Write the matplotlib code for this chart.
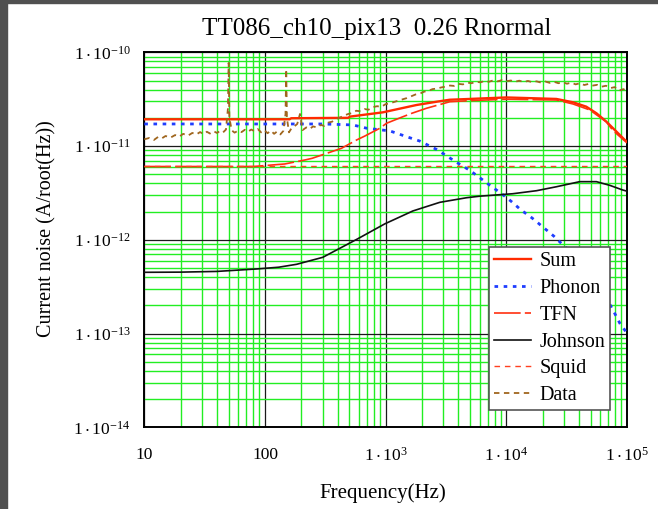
import matplotlib
matplotlib.use("Agg")
import matplotlib.pyplot as plt
from matplotlib.patches import Rectangle
from matplotlib.ticker import FixedLocator, FixedFormatter, NullFormatter, LogLocator

plt.rcParams['font.family'] = ['Liberation Serif', 'DejaVu Serif']
plt.rcParams['mathtext.fontset'] = 'custom'
plt.rcParams['mathtext.rm'] = 'Liberation Serif'
plt.rcParams['mathtext.it'] = 'Liberation Serif:italic'

# ---------------- data ----------------
sum_f = [10, 160, 165, 490, 505, 950, 1800, 2640, 3400, 4680, 1e4, 2.6e4, 3.57e4, 4.6e4, 5.6e4, 6.75e4, 8.2e4, 9.6e4, 1e5]
sum_v = [1.93, 1.93, 1.98, 2.00, 2.06, 2.29, 2.74, 2.97, 3.12, 3.17, 3.30, 3.18, 2.93, 2.63, 2.23, 1.82, 1.42, 1.16, 1.12]

phonon_f = [10, 300, 535, 695, 1084, 1489, 1919, 2642, 3090, 3864, 4977, 6109, 7430, 8954, 10940, 13240, 16330,
            19680, 24830, 29510, 34670, 40550, 46130, 52240, 59430, 67450, 76560, 87100, 1e5]
phonon_v = [1.72, 1.72, 1.68, 1.55, 1.45, 1.26, 1.13, 0.92, 0.809, 0.671, 0.551, 0.453, 0.375, 0.316, 0.258,
            0.208, 0.171, 0.140, 0.109, 0.088, 0.0736, 0.0561, 0.0476, 0.0404, 0.0316, 0.0238, 0.0178, 0.0129, 0.0101]

tfn_f = [10, 80, 146, 214, 246, 356, 431, 574, 673, 896, 1017, 1396, 1638, 2181, 2723, 3404, 4977, 1e4,
         2.6e4, 3.57e4, 4.91e4, 6.75e4, 7.66e4, 1e5]
tfn_v = [0.605, 0.605, 0.644, 0.71, 0.74, 0.87, 0.947, 1.16, 1.28, 1.55, 1.75, 2.06, 2.23, 2.53, 2.74, 2.97,
         3.05, 3.16, 3.10, 2.81, 2.43, 1.81, 1.46, 1.08]

johnson_f = [10, 20, 40, 86, 130, 183, 301, 575, 985, 1680, 2810, 4680, 6030, 11300, 17800, 26000, 40600,
             55800, 72000, 92000, 1e5]
johnson_v = [0.045, 0.0452, 0.046, 0.0489, 0.051, 0.0548, 0.065, 0.101, 0.148, 0.203, 0.251, 0.281, 0.292,
             0.310, 0.334, 0.368, 0.417, 0.417, 0.381, 0.340, 0.330]

squid_f = [10, 1e5]
squid_v = [0.61, 0.61]

data_f = [10, 11, 12, 13, 14, 15, 16.5, 18, 19.5, 21, 23, 25, 27, 29, 31, 33, 35, 37.5, 40, 42.5, 45, 47.5,
          49.3, 50, 50.7, 53, 56, 60, 64, 68, 72, 77, 82, 87, 93, 99, 105, 112, 119, 126, 134, 142, 148, 150,
          152, 158, 166, 175, 185, 195, 205, 220, 235, 250, 270, 290, 310, 335, 360, 390, 420, 455, 490, 530,
          570, 620, 670, 720, 780, 850, 920, 1000, 1080, 1170, 1270, 1380, 1500, 1630, 1770, 1920, 2080, 2260,
          2450, 2660, 2890, 3140, 3410, 3700, 4020, 4370, 4750, 5160, 5600, 6090, 6610, 7180, 7800, 8480, 9210,
          1.0e4, 1.09e4, 1.18e4, 1.28e4, 1.39e4, 1.51e4, 1.64e4, 1.78e4, 1.94e4, 2.1e4, 2.29e4, 2.48e4, 2.7e4,
          2.93e4, 3.18e4, 3.46e4, 3.75e4, 4.08e4, 4.43e4, 4.81e4, 5.23e4, 5.68e4, 6.17e4, 6.7e4, 7.28e4, 7.9e4,
          8.59e4, 9.33e4, 1.0e5]
data_v = [1.18, 1.22, 1.16, 1.25, 1.21, 1.28, 1.23, 1.31, 1.26, 1.35, 1.29, 1.38, 1.33, 1.41, 1.34, 1.42, 1.36,
          1.44, 1.38, 1.45, 1.40, 1.50, 2.5, 7.7, 2.0, 1.47, 1.39, 1.46, 1.41, 1.49, 1.42, 1.50, 1.44, 1.52,
          1.40, 1.48, 1.37, 1.46, 1.35, 1.43, 1.33, 1.45, 2.2, 6.6, 2.0, 1.40, 1.55, 1.62, 1.72, 2.2, 1.48,
          1.58, 1.52, 1.62, 1.58, 1.68, 1.64, 1.78, 1.82, 1.95, 2.02, 2.12, 2.20, 2.25, 2.38, 2.35, 2.48, 2.44,
          2.60, 2.66, 2.62, 2.80, 2.85, 2.95, 3.05, 3.15, 3.25, 3.40, 3.55, 3.62, 3.80, 3.88, 4.05, 4.10, 4.22,
          4.30, 4.42, 4.38, 4.60, 4.55, 4.75, 4.68, 4.85, 4.78, 4.95, 4.85, 5.02, 4.90, 5.05, 4.92, 5.00, 4.85,
          4.98, 4.82, 4.95, 4.80, 4.90, 4.75, 4.88, 4.72, 4.85, 4.68, 4.80, 4.62, 4.75, 4.55, 4.68, 4.48, 4.60,
          4.42, 4.50, 4.30, 4.40, 4.15, 4.25, 3.90, 4.05, 3.85]

unit = 1e-11
x_ticks = [10, 100, 1e3, 1e4, 1e5]
x_labels = ['10', '100', r'$\mathregular{1\cdot10^{3}}$', r'$\mathregular{1\cdot10^{4}}$', r'$\mathregular{1\cdot10^{5}}$']
y_ticks = [1e-14, 1e-13, 1e-12, 1e-11, 1e-10]
y_labels = [r'$\mathregular{1\cdot10^{-14}}$', r'$\mathregular{1\cdot10^{-13}}$', r'$\mathregular{1\cdot10^{-12}}$',
            r'$\mathregular{1\cdot10^{-11}}$', r'$\mathregular{1\cdot10^{-10}}$']

# ---------------- figure ----------------
W, H = 658, 509
fig = plt.figure(figsize=(W / 100, H / 100), dpi=100)
fig.patch.set_facecolor('white')
fig.patches.append(Rectangle((0, 1 - 3 / H), 1, 3 / H, transform=fig.transFigure, color='#505050', zorder=0))
fig.patches.append(Rectangle((0, 0), 7 / W, 1, transform=fig.transFigure, color='#505050', zorder=0))

ax = fig.add_axes([144.3 / W, 1 - 427.3 / H, (627 - 144.3) / W, (427.3 - 52.3) / H])
ax.set_xscale('log')
ax.set_yscale('log')
ax.set_xlim(10, 1e5)
ax.set_ylim(1e-14, 1e-10)

ax.xaxis.set_minor_locator(LogLocator(base=10, subs=range(2, 10), numticks=20))
ax.yaxis.set_minor_locator(LogLocator(base=10, subs=range(2, 10), numticks=20))
ax.xaxis.set_minor_formatter(NullFormatter())
ax.yaxis.set_minor_formatter(NullFormatter())
ax.xaxis.set_major_locator(FixedLocator(x_ticks))
ax.xaxis.set_major_formatter(FixedFormatter(x_labels))
ax.yaxis.set_major_locator(FixedLocator(y_ticks))
ax.yaxis.set_major_formatter(FixedFormatter(y_labels))
ax.grid(which='minor', color='#22ee22', lw=1.0, zorder=0)
ax.grid(which='major', color='#1a1a1a', lw=0.9, zorder=0.5)
ax.set_axisbelow(True)
ax.tick_params(which='both', length=0)
ax.tick_params(axis='x', labelsize=12.5, pad=14)
ax.tick_params(axis='y', labelsize=12.5, pad=10)
for s in ax.spines.values():
    s.set_color('black')
    s.set_linewidth(1.4)

ax.plot(sum_f, [v * unit for v in sum_v], color='#ff2a00', lw=1.7, label='Sum', zorder=3)
ax.plot(phonon_f, [v * unit for v in phonon_v], color='#1f3dff', lw=2.0, linestyle=(0, (1.3, 2.0)),
        label='Phonon', zorder=3)
ax.plot(tfn_f, [v * unit for v in tfn_v], color='#ff3010', lw=1.2, linestyle=(0, (16, 2.5)), label='TFN', zorder=3)
ax.plot(johnson_f, [v * unit for v in johnson_v], color='#111111', lw=1.2, label='Johnson', zorder=3)
ax.plot(squid_f, [v * unit for v in squid_v], color='#ff4020', lw=1.0, linestyle=(0, (4, 3.5)), label='Squid',
        zorder=3)
ax.plot(data_f, [v * unit for v in data_v], color='#a0661e', lw=1.3, linestyle=(0, (3, 2.5)), label='Data',
        zorder=4)

leg = ax.legend(loc='upper left', bbox_to_anchor=((489.3 - 144.3) / 482.7, (427.3 - 247.3) / 375),
                borderaxespad=0, fancybox=False, framealpha=1, edgecolor='#555555', fontsize=14.5,
                handlelength=1.8, handletextpad=0.45, labelspacing=0.38, borderpad=0.25)
leg.get_frame().set_linewidth(1.2)

fig.text(376.5 / W, 1 - 35 / H, 'TT086_ch10_pix13  0.26 Rnormal', ha='center', va='baseline', fontsize=18)
fig.text(383 / W, 1 - 493 / H, 'Frequency(Hz)', ha='center', va='center', fontsize=15)
fig.text(47 / W, 1 - 229 / H, 'Current noise (A/root(Hz))', ha='center', va='center', rotation=90, fontsize=14.5)

fig.savefig('out.png', dpi=100)
